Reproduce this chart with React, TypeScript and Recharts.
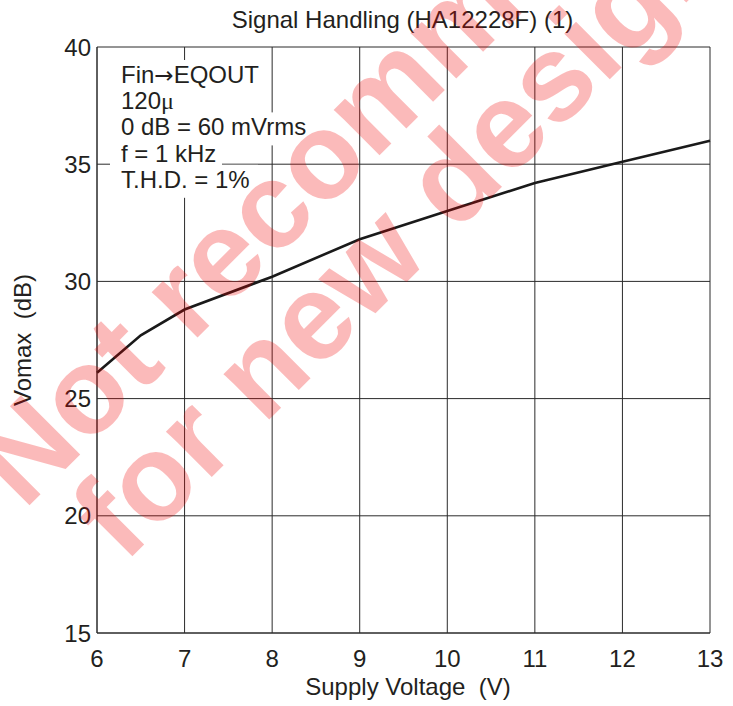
import React from 'react';
import { LineChart, Line, XAxis, YAxis, CartesianGrid } from 'recharts';

// Signal Handling (HA12228F) (1): Vomax vs supply voltage
const SUPPLY_V = [6, 6.5, 7, 8, 9, 10, 11, 12, 13];
const VOMAX_DB = [26.1, 27.7, 28.8, 30.2, 31.8, 33.0, 34.2, 35.1, 36.0];
const X_TICKS = [6, 7, 8, 9, 10, 11, 12, 13];
const Y_TICKS = [15, 20, 25, 30, 35, 40];
const NOTE_LINES = ['Fin→EQOUT', '120μ', '0 dB = 60 mVrms', 'f = 1 kHz', 'T.H.D. = 1%'];

const W = 733;
const H = 706;
const FONT = '"Liberation Sans", Arial, Helvetica, sans-serif';
const INK = '#231f20';
const GRID = '#2b2b2b';

const rows = SUPPLY_V.map((v, i) => ({ v, db: VOMAX_DB[i] }));

// white plates behind the condition note (they hide the grid like in the datasheet)
const NOTE_X = 121;
const NOTE_BASE = 83;
const NOTE_STEP = 26.2;
const NOTE_PLATE_RIGHT = [270, 190, 314, 222, 258];

// the datasheet sets → and μ in a symbol face; split them out so they get a wider glyph
function NoteLine({ text, y }: { text: string; y: number }) {
  const parts = text.split(/([→μ])/);
  return (
    <text x={NOTE_X} y={y} fontSize={24} fontFamily={FONT} fill={INK} style={{ whiteSpace: 'pre' }}>
      {parts.map((p, i) =>
        p === '→' ? (
          <tspan key={i} fontFamily='"DejaVu Sans", sans-serif' fontSize={23}>
            {p}
          </tspan>
        ) : p === 'μ' ? (
          <tspan key={i} fontFamily='"Liberation Serif", serif'>
            {p}
          </tspan>
        ) : (
          p
        )
      )}
    </text>
  );
}

export default function App() {
  return (
    <div style={{ position: 'absolute', left: 0, top: 0, width: W, height: H, background: '#fff' }}>
      <LineChart width={W} height={H} data={rows} margin={{ top: 47, right: 23, bottom: 0, left: 0 }}>
        <CartesianGrid stroke={GRID} strokeWidth={1} />
        <XAxis
          dataKey="v"
          type="number"
          domain={[6, 13]}
          ticks={X_TICKS}
          height={73}
          tickLine={false}
          tickSize={6}
          tickMargin={11}
          axisLine={{ stroke: GRID }}
          tick={{ fontSize: 24, fontFamily: FONT, fill: INK }}
        />
        <YAxis
          type="number"
          domain={[15, 40]}
          ticks={Y_TICKS}
          width={97}
          tickLine={false}
          tickSize={6}
          tickMargin={0}
          axisLine={{ stroke: GRID }}
          tick={{ fontSize: 24, fontFamily: FONT, fill: INK }}
        />
        <Line
          dataKey="db"
          type="linear"
          stroke="#1a1a1a"
          strokeWidth={2.6}
          dot={false}
          activeDot={false}
          isAnimationActive={false}
        />
      </LineChart>

      <svg width={W} height={H} style={{ position: 'absolute', left: 0, top: 0, pointerEvents: 'none' }}>
        <text x={402.5} y={28} textAnchor="middle" fontSize={24} fontFamily={FONT} fill={INK}>
          Signal Handling (HA12228F) (1)
        </text>
        <text
          x={408}
          y={695}
          textAnchor="middle"
          fontSize={24}
          fontFamily={FONT}
          fill={INK}
          style={{ whiteSpace: 'pre' }}
        >
          Supply Voltage  (V)
        </text>
        <text
          transform="translate(31,340) rotate(-90)"
          textAnchor="middle"
          fontSize={24}
          fontFamily={FONT}
          fill={INK}
          style={{ whiteSpace: 'pre' }}
        >
          Vomax  (dB)
        </text>

        {NOTE_LINES.map((t, i) => {
          const base = NOTE_BASE + i * NOTE_STEP;
          return <rect key={'p' + i} x={110} y={base - 23} width={NOTE_PLATE_RIGHT[i] - 110} height={33} fill="#fff" />;
        })}
        {NOTE_LINES.map((t, i) => (
          <NoteLine key={'n' + i} text={t} y={NOTE_BASE + i * NOTE_STEP} />
        ))}

        {/* "Not recommended for new design" stamp over the whole figure */}
        <g fill="rgb(240,0,0)" fillOpacity={0.27} fontFamily={FONT} fontWeight="bold" fontSize={122}>
          <text transform="translate(23.7,511.1) rotate(-45)">Not recommended</text>
          <text transform="translate(124.3,564.5) rotate(-45)">for new design</text>
        </g>
      </svg>
    </div>
  );
}
